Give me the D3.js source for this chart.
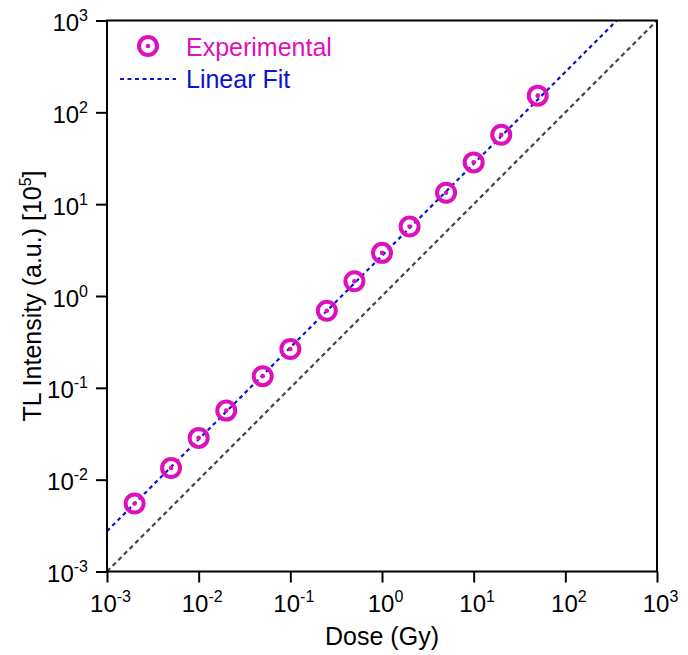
<!DOCTYPE html>
<html><head><meta charset="utf-8">
<script src="https://cdn.jsdelivr.net/npm/d3@7"></script>
<style>body{margin:0;background:#fff}svg{display:block;font-family:"Liberation Sans",Arial,sans-serif}</style>
</head><body><svg id="c" width="688" height="655"></svg>
<script>
const doses = [0.002, 0.005, 0.01, 0.02, 0.05, 0.1, 0.25, 0.5, 1, 2, 5, 10, 20, 50];
const intensity = [0.0055, 0.0134, 0.0285, 0.0565, 0.134, 0.265, 0.69, 1.45, 2.95, 5.7, 13.3, 28.5, 57, 152];
const fitSlope = 2.75;
const xTicks = [1e-3, 1e-2, 1e-1, 1e0, 1e1, 1e2, 1e3];
const yTicks = [1e-3, 1e-2, 1e-1, 1e0, 1e1, 1e2, 1e3];
const legendLabels = ["Experimental", "Linear Fit"];

const svg = d3.select("#c");
const L = 107, R = 657, T = 20.5, B = 571.5;
const x = d3.scaleLog().domain([1e-3, 1e3]).range([L, R]);
const y = d3.scaleLog().domain([1e-3, 1e3]).range([B, T]);
const magenta = "#dd10bb", blue = "#0a14d0", gray = "#444";

function supLabel(sel, v) {
  const e = Math.round(Math.log10(v));
  sel.text(null);
  sel.append("tspan").text("10");
  sel.append("tspan").attr("dy", -10).attr("font-size", 16).text(e);
}

svg.append("clipPath").attr("id", "clip").append("rect")
  .attr("x", L).attr("y", T).attr("width", R - L).attr("height", B - T);

// y = x reference line
svg.append("line").attr("clip-path", "url(#clip)")
  .attr("x1", x(1e-3)).attr("y1", y(1e-3)).attr("x2", x(1e3)).attr("y2", y(1e3))
  .attr("stroke", gray).attr("stroke-width", 2.2).attr("stroke-dasharray", "4.5,3.5");

// linear fit
const fx0 = 1e-3, fx1 = 1e3 / fitSlope;
svg.append("line").attr("clip-path", "url(#clip)")
  .attr("x1", x(fx0)).attr("y1", y(fx0 * fitSlope)).attr("x2", x(fx1)).attr("y2", y(fx1 * fitSlope))
  .attr("stroke", blue).attr("stroke-width", 2.2).attr("stroke-dasharray", "4,3.5");

// points
const pts = svg.append("g");
doses.forEach((d, i) => {
  pts.append("circle").attr("cx", x(d)).attr("cy", y(intensity[i])).attr("r", 9)
    .attr("fill", "none").attr("stroke", magenta).attr("stroke-width", 4);
  pts.append("circle").attr("cx", x(d)).attr("cy", y(intensity[i])).attr("r", 2.3)
    .attr("fill", magenta);
});

// axes
const xAxis = svg.append("g").attr("transform", `translate(0,${B})`)
  .call(d3.axisBottom(x).tickValues(xTicks).tickSize(11).tickSizeOuter(0));
const yAxis = svg.append("g").attr("transform", `translate(${L},0)`)
  .call(d3.axisLeft(y).tickValues(yTicks).tickSize(11).tickSizeOuter(0));
[xAxis, yAxis].forEach(a => {
  a.select(".domain").remove();
  a.selectAll("line").attr("stroke", "#000").attr("stroke-width", 2);
  a.selectAll("text").attr("font-size", 24).attr("fill", "#000")
    .attr("font-family", '"Liberation Sans",Arial,sans-serif');
});
xAxis.selectAll(".tick text").attr("y", 40).attr("dy", 0).attr("dx", 3)
  .each(function(v){ supLabel(d3.select(this), v); });
yAxis.selectAll(".tick text").attr("x", -19).attr("dy", 0).attr("y", 10)
  .each(function(v){ supLabel(d3.select(this), v); });

// frame
svg.append("rect").attr("x", L).attr("y", T).attr("width", R - L).attr("height", B - T)
  .attr("fill", "none").attr("stroke", "#000").attr("stroke-width", 2);

// axis titles
svg.append("text").attr("x", 382).attr("y", 645).attr("text-anchor", "middle")
  .attr("font-size", 25).text("Dose (Gy)");
const yt = svg.append("text").attr("transform", "translate(41,296) rotate(-90)")
  .attr("text-anchor", "middle").attr("font-size", 25);
yt.append("tspan").text("TL Intensity (a.u.) [10");
yt.append("tspan").attr("dy", -10).attr("font-size", 16).text("5");
yt.append("tspan").attr("dy", 10).text("]");

// legend
const lg = svg.append("g");
lg.append("circle").attr("cx", 148).attr("cy", 46).attr("r", 9)
  .attr("fill", "none").attr("stroke", magenta).attr("stroke-width", 4);
lg.append("circle").attr("cx", 148).attr("cy", 46).attr("r", 2.3).attr("fill", magenta);
lg.append("text").attr("x", 186).attr("y", 56).attr("font-size", 25).attr("fill", magenta).text(legendLabels[0]);
lg.append("line").attr("x1", 120).attr("x2", 176).attr("y1", 79).attr("y2", 79)
  .attr("stroke", blue).attr("stroke-width", 2.2).attr("stroke-dasharray", "4,3.5");
lg.append("text").attr("x", 186).attr("y", 88).attr("font-size", 25).attr("fill", blue).text(legendLabels[1]);
</script></body></html>
